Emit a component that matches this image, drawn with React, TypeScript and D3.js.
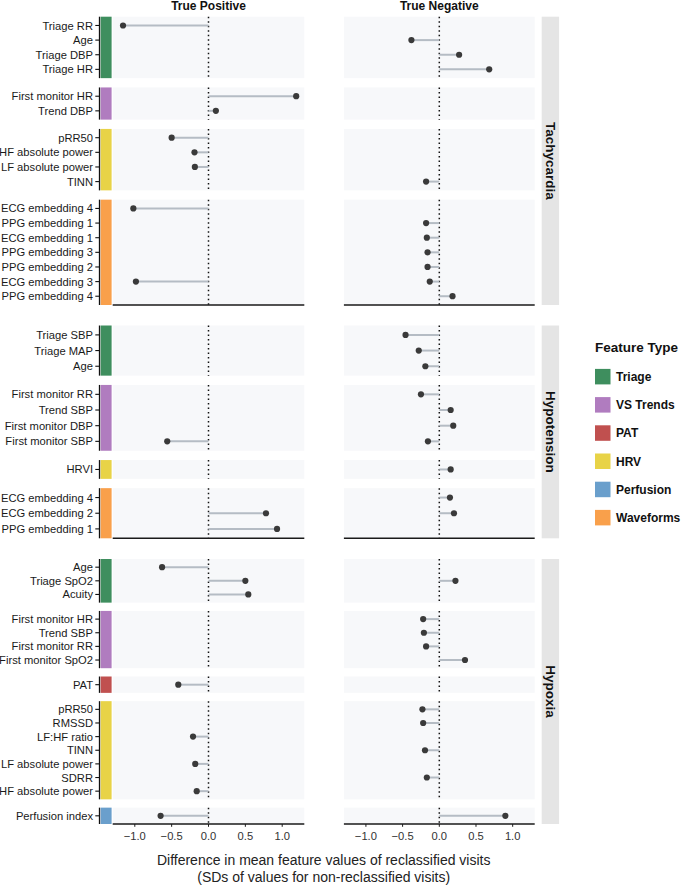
import React from "react";
import * as d3 from "d3";

// ---------- DATA ----------
const featureTypes = ["Triage", "VS Trends", "PAT", "HRV", "Perfusion", "Waveforms"];
const typeColors = ["#3e8e5e", "#b07cbf", "#c0504f", "#e8d347", "#6a9fcc", "#f9a04b"];
const columns = ["True Positive", "True Negative"];
const xTicks = [-1.0, -0.5, 0.0, 0.5, 1.0];

// [feature, type, truePositive, trueNegative]
type Row = [string, string, number | null, number | null];

const tachycardiaRows: Row[] = [
  ["Triage RR", "Triage", -1.16, null],
  ["Age", "Triage", null, -0.38],
  ["Triage DBP", "Triage", null, 0.27],
  ["Triage HR", "Triage", null, 0.68],
  ["First monitor HR", "VS Trends", 1.19, null],
  ["Trend DBP", "VS Trends", 0.1, null],
  ["pRR50", "HRV", -0.5, null],
  ["HF absolute power", "HRV", -0.19, null],
  ["LF absolute power", "HRV", -0.185, null],
  ["TINN", "HRV", null, -0.18],
  ["ECG embedding 4", "Waveforms", -1.02, null],
  ["PPG embedding 1", "Waveforms", null, -0.18],
  ["ECG embedding 1", "Waveforms", null, -0.17],
  ["PPG embedding 3", "Waveforms", null, -0.16],
  ["PPG embedding 2", "Waveforms", null, -0.16],
  ["ECG embedding 3", "Waveforms", -0.985, -0.13],
  ["PPG embedding 4", "Waveforms", null, 0.18],
];

const hypotensionRows: Row[] = [
  ["Triage SBP", "Triage", null, -0.46],
  ["Triage MAP", "Triage", null, -0.28],
  ["Age", "Triage", null, -0.19],
  ["First monitor RR", "VS Trends", null, -0.25],
  ["Trend SBP", "VS Trends", null, 0.155],
  ["First monitor DBP", "VS Trends", null, 0.19],
  ["First monitor SBP", "VS Trends", -0.56, -0.155],
  ["HRVI", "HRV", null, 0.155],
  ["ECG embedding 4", "Waveforms", null, 0.145],
  ["ECG embedding 2", "Waveforms", 0.78, 0.2],
  ["PPG embedding 1", "Waveforms", 0.93, null],
];

const hypoxiaRows: Row[] = [
  ["Age", "Triage", -0.63, null],
  ["Triage SpO2", "Triage", 0.5, 0.22],
  ["Acuity", "Triage", 0.54, null],
  ["First monitor HR", "VS Trends", null, -0.22],
  ["Trend SBP", "VS Trends", null, -0.21],
  ["First monitor RR", "VS Trends", null, -0.18],
  ["First monitor SpO2", "VS Trends", null, 0.35],
  ["PAT", "PAT", -0.41, null],
  ["pRR50", "HRV", null, -0.23],
  ["RMSSD", "HRV", null, -0.22],
  ["LF:HF ratio", "HRV", -0.21, null],
  ["TINN", "HRV", null, -0.195],
  ["LF absolute power", "HRV", -0.18, null],
  ["SDRR", "HRV", null, -0.17],
  ["HF absolute power", "HRV", -0.16, null],
  ["Perfusion index", "Perfusion", -0.65, 0.9],
];

const conditions = ["Tachycardia", "Hypotension", "Hypoxia"];
const conditionRows = [tachycardiaRows, hypotensionRows, hypoxiaRows];

// ---------- LAYOUT ----------
const W = 685;
const H = 887;
const condLayout = [
  { top: 16.7, bottom: 305, gap: 9.3 },
  { top: 325.5, bottom: 538.3, gap: 9.3 },
  { top: 559, bottom: 824, gap: 8.3 },
];
const panelX = [
  [112.7, 304.3],
  [343.9, 534.7],
];
const xDomain = [-1.3, 1.3];
const FONT = "'Liberation Sans', Arial, Helvetica, sans-serif";

function groupRows(rows: Row[]) {
  const groups: { type: string; rows: Row[] }[] = [];
  rows.forEach((r) => {
    const last = groups[groups.length - 1];
    if (last && last.type === r[1]) last.rows.push(r);
    else groups.push({ type: r[1], rows: [r] });
  });
  return groups;
}

export default function App() {
  const colorScale = d3.scaleOrdinal<string, string>().domain(featureTypes).range(typeColors);
  const xScales = panelX.map((r) => d3.scaleLinear().domain(xDomain).range(r));

  const condElems = conditions.map((cond, ci) => {
    const lay = condLayout[ci];
    const groups = groupRows(conditionRows[ci]);
    const units = d3.sum(groups, (g) => g.rows.length + 0.2);
    const u = (lay.bottom - lay.top - lay.gap * (groups.length - 1)) / units;
    let cursor = lay.top;
    const groupEls = groups.map((g, gi) => {
      const gTop = cursor;
      const gBot = gTop + (g.rows.length + 0.2) * u;
      cursor = gBot + lay.gap;
      const y = d3
        .scalePoint<string>()
        .domain(g.rows.map((r) => r[0]))
        .range([gTop, gBot])
        .padding(0.6);
      return (
        <g key={gi}>
          {xScales.map((xs, pi) => (
            <g key={pi}>
              <rect x={panelX[pi][0]} y={gTop} width={panelX[pi][1] - panelX[pi][0]} height={gBot - gTop} fill="#f7f8fa" />
              <line x1={xs(0)} x2={xs(0)} y1={gTop} y2={gBot} stroke="#111" strokeWidth={1.5} strokeDasharray="1.5 3" />
              {g.rows.map((r) => {
                const v = r[2 + pi] as number | null;
                if (v === null) return null;
                const yy = y(r[0]) as number;
                return (
                  <g key={r[0]}>
                    <line x1={xs(0)} x2={xs(v)} y1={yy} y2={yy} stroke="#b5bcc4" strokeWidth={2} />
                    <circle cx={xs(v)} cy={yy} r={3.1} fill="#3a3a3a" />
                  </g>
                );
              })}
            </g>
          ))}
          <rect x={100.6} y={gTop} width={11} height={gBot - gTop} fill={colorScale(g.type)} />
          <line x1={99.5} x2={99.5} y1={gTop} y2={gBot} stroke="#111" strokeWidth={1.3} />
          {g.rows.map((r) => {
            const yy = y(r[0]) as number;
            return (
              <g key={"t" + r[0]}>
                <line x1={95.3} x2={99.5} y1={yy} y2={yy} stroke="#111" strokeWidth={1.1} />
                <text x={93} y={yy} dy="0.36em" textAnchor="end" fontSize={11.2} fill="#1a1a1a" fontFamily={FONT}>
                  {r[0]}
                </text>
              </g>
            );
          })}
        </g>
      );
    });
    const isLast = ci === conditions.length - 1;
    return (
      <g key={cond}>
        {groupEls}
        {xScales.map((xs, pi) => (
          <g key={"ax" + pi}>
            <line x1={panelX[pi][0]} x2={panelX[pi][1]} y1={lay.bottom} y2={lay.bottom} stroke="#1a1a1a" strokeWidth={1.5} />
            {isLast &&
              xTicks.map((t) => (
                <g key={t}>
                  <line x1={xs(t)} x2={xs(t)} y1={lay.bottom} y2={lay.bottom + 2.8} stroke="#1a1a1a" strokeWidth={1} />
                  <text x={xs(t)} y={lay.bottom + 16} textAnchor="middle" fontSize={11.2} fill="#333" fontFamily={FONT}>
                    {d3.format(".1f")(t).replace("-", "\u2212")}
                  </text>
                </g>
              ))}
          </g>
        ))}
        <rect x={541.7} y={lay.top} width={17.4} height={lay.bottom - lay.top} fill="#e5e5e5" />
        <text
          transform={`translate(${550.4},${(lay.top + lay.bottom) / 2}) rotate(90)`}
          textAnchor="middle"
          dy="0.36em"
          fontSize={13.5}
          fontWeight="bold"
          fill="#111"
          fontFamily={FONT}
        >
          {cond}
        </text>
      </g>
    );
  });

  const legendY0 = 376.7;
  const legendStep = 28.2;

  return (
    <div style={{ position: "absolute", left: 0, top: 0 }}>
      <svg width={W} height={H} style={{ display: "block", background: "#fff" }}>
        {columns.map((c, i) => (
          <text
            key={c}
            x={(panelX[i][0] + panelX[i][1]) / 2}
            y={9.6}
            textAnchor="middle"
            fontSize={12}
            fontWeight="bold"
            fill="#111"
            fontFamily={FONT}
          >
            {c}
          </text>
        ))}
        {condElems}
        <text x={323.7} y={865} textAnchor="middle" fontSize={14} fill="#222" fontFamily={FONT}>
          Difference in mean feature values of reclassified visits
        </text>
        <text x={323.7} y={882} textAnchor="middle" fontSize={14} fill="#222" fontFamily={FONT}>
          (SDs of values for non-reclassified visits)
        </text>
        <g>
          <text x={595} y={352} fontSize={13.5} fontWeight="bold" fill="#111" fontFamily={FONT}>
            Feature Type
          </text>
          {featureTypes.map((t, i) => {
            const cy = legendY0 + i * legendStep;
            return (
              <g key={t}>
                <rect x={595} y={cy - 7.8} width={15.5} height={15.5} fill={colorScale(t)} />
                <text x={616} y={cy} dy="0.36em" fontSize={12} fontWeight="bold" fill="#111" fontFamily={FONT}>
                  {t}
                </text>
              </g>
            );
          })}
        </g>
      </svg>
    </div>
  );
}
